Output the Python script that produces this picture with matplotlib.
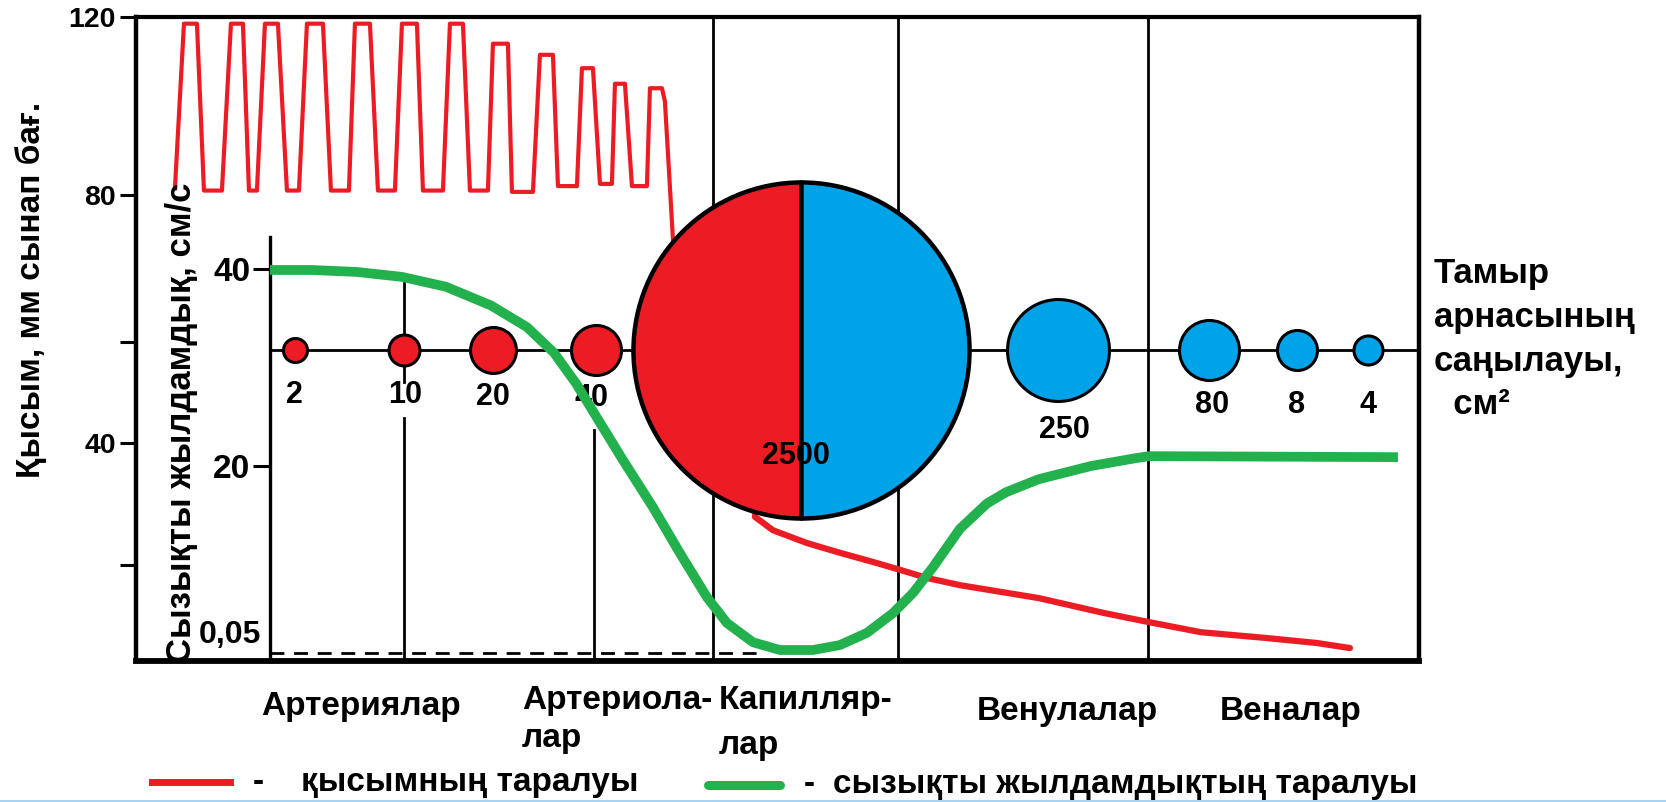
"""Blood pressure, linear velocity and cross-section area along the vascular bed."""

import numpy as np
import matplotlib

matplotlib.use("Agg")
import matplotlib.pyplot as plt
from matplotlib.lines import Line2D

plt.rcParams["font.family"] = ["Liberation Sans", "DejaVu Sans"]
plt.rcParams["font.weight"] = "bold"

RED = "#ED1C24"
BLUE = "#00A2E8"
GREEN = "#22B14C"

# hand-drawn, non-linear value axes of the original (value -> height, px)
P_SCALE_MM = [0, 20, 40, 60, 80, 120, 160]
P_SCALE_POS = [0, 96, 218, 319, 466, 644, 822]
V_SCALE_CM = [0, 0.05, 20, 40, 70]
V_SCALE_POS = [0, 8, 195, 392, 687.5]

P_TICKS = [120, 80, 60, 40, 20]
P_TICK_LABELS = ["120", "80", "", "40", ""]
V_TICKS = [20, 40]
V_TICK_LABELS = ["20", "40"]

# x is a position along the vascular bed (arbitrary units)
X_MAX = 128.3
VEL_AXIS_X = 13.4
SECTION_X = [26.8, 45.8, 57.7, 76.2, 101.2]

# pressure, mmHg
PRESSURE_X = [
    3.9, 4.8, 6.1, 6.8,
    8.6, 9.5, 10.7, 11.3,
    12.1, 12.9, 14.2, 15.1,
    16.3, 17.1, 18.7, 19.5,
    21.3, 21.9, 23.4, 24.2,
    25.9, 26.6, 28.1, 28.7,
    30.7, 31.4, 32.7, 33.4,
    35.2, 35.7, 37.2, 37.6,
    39.7, 40.4, 41.7, 42.2,
    44.1, 44.6, 45.7, 46.4,
    47.6, 47.9, 48.9, 49.6,
    51.1, 51.4, 52.6, 52.9, 53.7,
    61.9, 63.7, 67.1, 70.4, 73.7, 76.4, 79.1, 82.4,
    90.3, 96.8, 101.3, 106.5, 113.0, 118.1, 121.4,
]
PRESSURE_MM = [
    81.5, 118.5, 118.5, 81,
    81, 118.5, 118.5, 81,
    81, 118.5, 118.5, 81,
    81, 118.5, 118.5, 81,
    81, 118.5, 118.5, 81,
    81, 118.5, 118.5, 81,
    81, 118.5, 118.5, 81,
    81, 114, 114, 80.7,
    80.7, 111.5, 111.5, 82,
    82, 108.5, 108.5, 82.5,
    82.5, 105, 105, 82,
    82, 104, 104, 101, 74,
    27.9, 25.7, 23.6, 22.0, 20.5, 19.0, 17.3, 15.8,
    13.1, 10.0, 8.1, 6.0, 4.8, 3.75, 2.7,
]
PRESSURE_SPLIT = 49  # first point past the capillaries

# linear velocity, cm/s
VEL_X = [
    13.4, 17.6, 22.1, 26.6, 31.0, 35.5, 39.1, 41.8, 44.0, 45.8,
    48.7, 51.7, 54.4, 57.1, 59.1, 61.7, 64.4, 67.7, 70.4, 73.1,
    75.7, 77.7, 79.7, 82.4, 85.1, 87.0, 90.3, 95.5, 100.0, 101.3, 126.2,
]
VEL_CM = [
    39.9, 39.9, 39.7, 39.2, 38.2, 36.3, 34.1, 31.5, 28.4, 25.4,
    20.6, 15.6, 10.7, 6.0, 3.25, 1.2, 0.37, 0.37, 0.9, 2.2,
    4.3, 6.45, 9.2, 13.3, 16.0, 17.2, 18.6, 20.0, 20.8, 21.0, 20.9,
]
VEL_AXIS_TOP = 43.2
VEL_MIN = 0.05
VEL_MIN_X_END = 62.4

# total cross-section area of the bed, cm^2
AREA_X = [15.9, 26.8, 35.7, 46.0, 66.5, 92.2, 107.3, 116.1, 123.2]
AREA_LABEL_X = [15.8, 26.9, 35.7, 45.6, 66.0, 92.9, 107.6, 116.1, 123.2]
AREA_LABELS = ["2", "10", "20", "40", "2500", "250", "80", "8", "4"]
AREA_KIND = ["a", "a", "a", "a", "c", "v", "v", "v", "v"]

CATEGORY_X = [12.5, 38.6, 58.3, 84.1, 108.4]
CATEGORY_LINES = [
    ["Артериялар"],
    ["Артериола-", "лар"],
    ["Капилляр-", "лар"],
    ["Венулалар"],
    ["Веналар"],
]

# styles / layout
AREA_LEVEL = 0.483
AREA_MS = [17.3, 22.3, 33.1, 36.0, 242.0, 73.4, 43.2, 28.8, 20.9]
AREA_LABEL_Y = [0.413, 0.413, 0.410, 0.408, 0.318, 0.359, 0.398, 0.398, 0.398]
CATEGORY_Y = [[-0.071], [-0.062, -0.120], [-0.062, -0.131], [-0.079], [-0.079]]
SECTION_SPANS = [[(0.0, 0.377), (0.433, 0.587)], [(0.0, 0.359)],
                 [(0.0, 1.0)], [(0.0, 1.0)], [(0.0, 1.0)]]


def p_fwd(v):
    return np.interp(v, P_SCALE_MM, P_SCALE_POS)


def p_inv(v):
    return np.interp(v, P_SCALE_POS, P_SCALE_MM)


def v_fwd(v):
    return np.interp(v, V_SCALE_CM, V_SCALE_POS)


def v_inv(v):
    return np.interp(v, V_SCALE_POS, V_SCALE_CM)


fig = plt.figure(figsize=(16.66, 8.02), dpi=100)
ax = fig.add_axes([0.0816, 0.1758, 0.7701, 0.803])
ax.set_yscale("function", functions=(p_fwd, p_inv))
xt = ax.get_xaxis_transform()

for x, spans in zip(SECTION_X, SECTION_SPANS):
    for lo, hi in spans:
        ax.axvline(x, lo, hi, color="k", lw=2.0, zorder=1)

ax.plot([VEL_AXIS_X, X_MAX], [AREA_LEVEL, AREA_LEVEL], color="k", lw=2.0,
        transform=xt, zorder=1)

ax.plot(PRESSURE_X[:PRESSURE_SPLIT + 1], PRESSURE_MM[:PRESSURE_SPLIT + 1],
        color=RED, lw=3.0, solid_joinstyle="round", zorder=2)
ax.plot(PRESSURE_X[PRESSURE_SPLIT:], PRESSURE_MM[PRESSURE_SPLIT:],
        color=RED, lw=4.5, solid_capstyle="round", zorder=2)

for x, ms, kind in zip(AREA_X, AREA_MS, AREA_KIND):
    if kind == "c":
        ax.plot(x, AREA_LEVEL, marker="o", ms=ms, fillstyle="left",
                mfc=RED, mfcalt=BLUE, mec="k", mew=3.2, transform=xt, zorder=4)
    else:
        ax.plot(x, AREA_LEVEL, marker="o", ms=ms, mfc=RED if kind == "a" else BLUE,
                mec="k", mew=2.2, transform=xt, zorder=4)

for x, y, lab in zip(AREA_LABEL_X, AREA_LABEL_Y, AREA_LABELS):
    ax.text(x, y, lab, transform=xt, ha="center", va="center", fontsize=22, zorder=6)

for x, lines, ys in zip(CATEGORY_X, CATEGORY_LINES, CATEGORY_Y):
    for line, y in zip(lines, ys):
        ax.text(x, y, line, transform=xt, ha="left", va="center", fontsize=24,
                clip_on=False)

ax.set_xlim(0, X_MAX)
ax.set_ylim(0, 120)
ax.set_xticks([])
ax.set_yticks(P_TICKS, P_TICK_LABELS)
ax.tick_params(axis="y", length=11.5, width=2.2, pad=3, labelsize=20.5)
for side, lw in (("left", 3.2), ("top", 3.0), ("right", 3.2), ("bottom", 4.2)):
    ax.spines[side].set_linewidth(lw)

ax2 = ax.twinx()
ax2.set_yscale("function", functions=(v_fwd, v_inv))
ax2.plot(VEL_X, VEL_CM, color=GREEN, lw=7, solid_capstyle="butt",
         solid_joinstyle="round", zorder=3)
ax2.hlines(VEL_MIN, VEL_AXIS_X, VEL_MIN_X_END, color="k", lw=2.0,
           linestyles=(0, (5, 3.5)), zorder=2)
ax2.set_xlim(0, X_MAX)
ax2.set_ylim(0, float(v_inv(644)))
for side in ("right", "top", "bottom"):
    ax2.spines[side].set_visible(False)
ax2.spines["left"].set_visible(True)
ax2.spines["left"].set_position(("data", VEL_AXIS_X))
ax2.spines["left"].set_bounds(0, VEL_AXIS_TOP)
ax2.spines["left"].set_linewidth(2.4)
ax2.yaxis.set_ticks_position("left")
ax2.set_yticks(V_TICKS, V_TICK_LABELS)
ax2.tick_params(axis="y", length=12, width=2.2, pad=2, labelsize=24)
ax2.annotate("0,05", xy=(VEL_AXIS_X, VEL_MIN), xytext=(-6, 2),
             textcoords="offset points", ha="right", va="bottom", fontsize=23)

fig.text(31 / 1666, 512 / 802, "Қысым, мм сынап бағ.", rotation=90,
         ha="center", va="center", fontsize=24)
fig.text(181 / 1666, 379 / 802, "Сызықты жылдамдық, см/с", rotation=90,
         ha="center", va="center", fontsize=25)

for i, line in enumerate(["Тамыр", "арнасының", "саңылауы,", "  см²"]):
    fig.text(1434 / 1666, (802 - 273 - 44 * i) / 802, line,
             ha="left", va="center", fontsize=25)

# legend drawn by hand, as in the original
fig.add_artist(Line2D([152 / 1666, 230 / 1666], [20 / 802] * 2, color=RED, lw=5))
fig.text(253 / 1666, 20 / 802, "-", ha="left", va="center", fontsize=24)
fig.text(301 / 1666, 20 / 802, "қысымның таралуы", ha="left", va="center", fontsize=24)
fig.add_artist(Line2D([708 / 1666, 780 / 1666], [17 / 802] * 2, color=GREEN, lw=6.5,
                      solid_capstyle="round"))
fig.text(804 / 1666, 17 / 802, "-", ha="left", va="center", fontsize=24)
fig.text(833 / 1666, 17 / 802, "сызықты жылдамдықтың таралуы", ha="left",
         va="center", fontsize=24)
fig.add_artist(Line2D([0, 1], [1.5 / 802] * 2, color="#a8d4f2", lw=1.5))

fig.savefig("out.png", dpi=100)
